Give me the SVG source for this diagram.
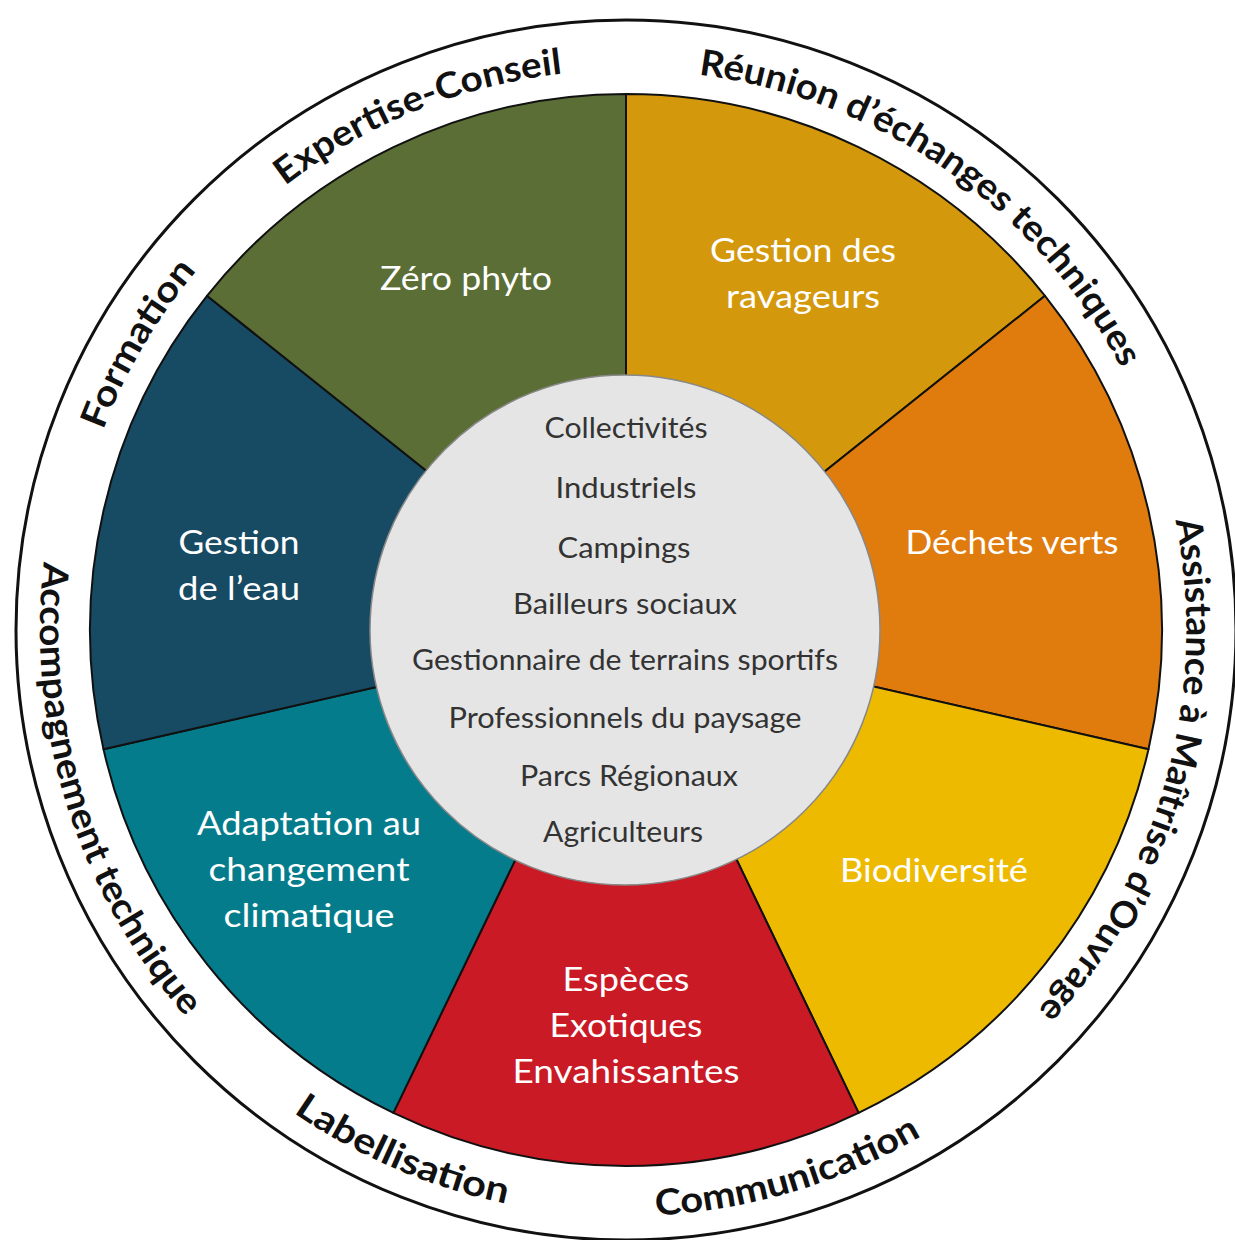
<svg xmlns="http://www.w3.org/2000/svg" width="1235" height="1240" viewBox="0 0 1235 1240">
<defs>
<style>
.seg{stroke:#111;stroke-width:2;stroke-linejoin:round}
.lbl{font-family:Lato,"Open Sans","Liberation Sans",sans-serif;font-size:33px;fill:#fff;text-anchor:middle}
.aud{font-family:Lato,"Open Sans","Liberation Sans",sans-serif;font-size:28px;fill:#333;text-anchor:middle}
.ring{font-family:Lato,"Open Sans","Liberation Sans",sans-serif;font-weight:bold;font-size:36px;fill:#111;text-anchor:middle}
</style>
<path id="p1" d="M78.2,746.4 A560,560 0 0 1 1100.9,333.3" fill="none"/>
<path id="p2" d="M228.6,235.4 A560,560 0 0 1 1134.4,864.9" fill="none"/>
<path id="p3" d="M263.1,1056.4 A560,560 0 0 1 821.2,105.1" fill="none"/>
<path id="p5" d="M868.9,125.4 A560,560 0 0 1 570.4,1187.3" fill="none"/>
<path id="p4" d="M357.2,109.3 A586,586 0 0 0 700.5,1211.3" fill="none"/>
<path id="p6" d="M55.5,496.2 A586,586 0 0 0 1116.4,950.9" fill="none"/>
<path id="p7" d="M102.0,892.4 A586,586 0 0 0 1208.1,562.7" fill="none"/>
</defs>
<rect width="1235" height="1240" fill="#fff"/>
<circle id="outer-ring" cx="626" cy="630" r="610" fill="#fff" stroke="#111" stroke-width="3"/>

<g id="seg-ravageurs">
<path class="seg" fill="#D4980C" d="M626,630 L626,94 A536,536 0 0 1 1045,295.8 Z"/>
<text class="lbl" x="803" y="262" textLength="186" lengthAdjust="spacingAndGlyphs">Gestion des</text>
<text class="lbl" x="803" y="308" textLength="154" lengthAdjust="spacingAndGlyphs">ravageurs</text>
</g>
<g id="seg-dechets">
<path class="seg" fill="#E07B0E" d="M626,630 L1045,295.8 A536,536 0 0 1 1148.5,749.3 Z"/>
<text class="lbl" x="1012" y="554" textLength="213" lengthAdjust="spacingAndGlyphs">Déchets verts</text>
</g>
<g id="seg-biodiversite">
<path class="seg" fill="#EDBA00" d="M626,630 L1148.5,749.3 A536,536 0 0 1 858.6,1112.9 Z"/>
<text class="lbl" x="934" y="882" textLength="188" lengthAdjust="spacingAndGlyphs">Biodiversité</text>
</g>
<g id="seg-especes">
<path class="seg" fill="#C91A25" d="M626,630 L858.6,1112.9 A536,536 0 0 1 393.4,1112.9 Z"/>
<text class="lbl" x="626" y="991" textLength="127" lengthAdjust="spacingAndGlyphs">Espèces</text>
<text class="lbl" x="626" y="1037" textLength="153" lengthAdjust="spacingAndGlyphs">Exotiques</text>
<text class="lbl" x="626" y="1083" textLength="227" lengthAdjust="spacingAndGlyphs">Envahissantes</text>
</g>
<g id="seg-adaptation">
<path class="seg" fill="#057C8C" d="M626,630 L393.4,1112.9 A536,536 0 0 1 103.5,749.3 Z"/>
<text class="lbl" x="309" y="835" textLength="224" lengthAdjust="spacingAndGlyphs">Adaptation au</text>
<text class="lbl" x="309" y="881" textLength="201" lengthAdjust="spacingAndGlyphs">changement</text>
<text class="lbl" x="309" y="927" textLength="171" lengthAdjust="spacingAndGlyphs">climatique</text>
</g>
<g id="seg-eau">
<path class="seg" fill="#174A63" d="M626,630 L103.5,749.3 A536,536 0 0 1 207,295.8 Z"/>
<text class="lbl" x="239" y="554" textLength="121" lengthAdjust="spacingAndGlyphs">Gestion</text>
<text class="lbl" x="239" y="600" textLength="122" lengthAdjust="spacingAndGlyphs">de l’eau</text>
</g>
<g id="seg-zerophyto">
<path class="seg" fill="#5A6E36" d="M626,630 L207,295.8 A536,536 0 0 1 626,94 Z"/>
<text class="lbl" x="466" y="290" textLength="172" lengthAdjust="spacingAndGlyphs">Zéro phyto</text>
</g>

<g id="center">
<circle cx="625" cy="630" r="255" fill="#E5E5E5" stroke="#888" stroke-width="1.5"/>
<text class="aud" x="626" y="438" textLength="163" lengthAdjust="spacingAndGlyphs">Collectivités</text>
<text class="aud" x="626" y="498" textLength="141" lengthAdjust="spacingAndGlyphs">Industriels</text>
<text class="aud" x="624" y="558" textLength="133" lengthAdjust="spacingAndGlyphs">Campings</text>
<text class="aud" x="625" y="614" textLength="224" lengthAdjust="spacingAndGlyphs">Bailleurs sociaux</text>
<text class="aud" x="625" y="670" textLength="426" lengthAdjust="spacingAndGlyphs">Gestionnaire de terrains sportifs</text>
<text class="aud" x="625" y="728" textLength="353" lengthAdjust="spacingAndGlyphs">Professionnels du paysage</text>
<text class="aud" x="629" y="786" textLength="218" lengthAdjust="spacingAndGlyphs">Parcs Régionaux</text>
<text class="aud" x="623" y="842" textLength="160" lengthAdjust="spacingAndGlyphs">Agriculteurs</text>
</g>

<g id="ring-labels">
<text class="ring"><textPath href="#p1" startOffset="50%" textLength="303" lengthAdjust="spacingAndGlyphs">Expertise-Conseil</textPath></text>
<text class="ring"><textPath href="#p2" startOffset="50%" textLength="535" lengthAdjust="spacingAndGlyphs">Réunion d’échanges techniques</textPath></text>
<text class="ring"><textPath href="#p3" startOffset="50%" textLength="186" lengthAdjust="spacingAndGlyphs">Formation</textPath></text>
<text class="ring"><textPath href="#p5" startOffset="50%" textLength="528" lengthAdjust="spacingAndGlyphs">Assistance à Maîtrise d’Ouvrage</textPath></text>
<text class="ring"><textPath href="#p4" startOffset="50%" textLength="491" lengthAdjust="spacingAndGlyphs">Accompagnement technique</textPath></text>
<text class="ring"><textPath href="#p6" startOffset="50%" textLength="233" lengthAdjust="spacingAndGlyphs">Labellisation</textPath></text>
<text class="ring"><textPath href="#p7" startOffset="50%" textLength="280" lengthAdjust="spacingAndGlyphs">Communication</textPath></text>
</g>
</svg>
